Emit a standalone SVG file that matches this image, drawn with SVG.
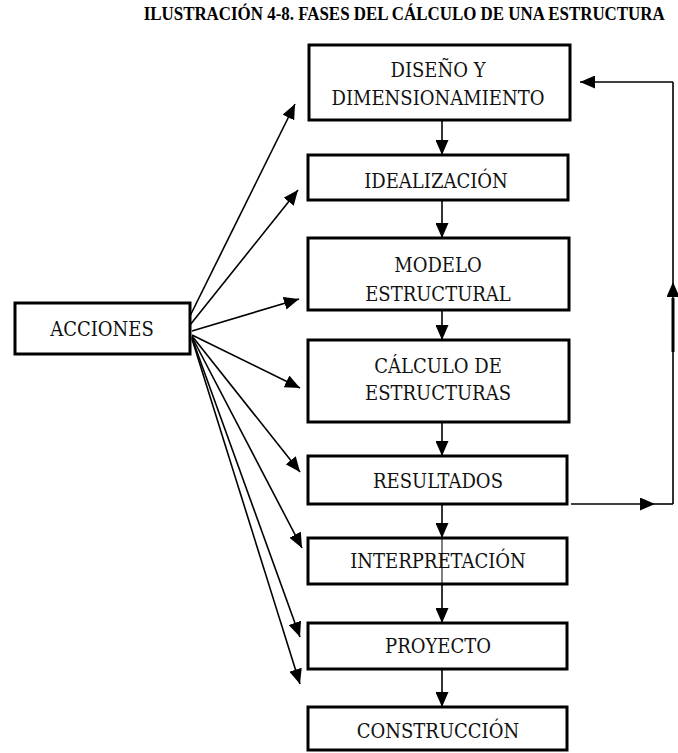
<svg xmlns="http://www.w3.org/2000/svg" width="678" height="753" viewBox="0 0 678 753">
<style>
.box{fill:#fff;stroke:#000;stroke-width:3}
.t{font-family:"DejaVu Serif Condensed","DejaVu Serif","Liberation Serif",serif;font-stretch:condensed;font-size:20px;fill:#111;text-anchor:middle}
.ttl{font-family:"Liberation Serif",serif;font-weight:bold;font-size:18px;fill:#000;text-anchor:middle}
.c{fill:none;stroke:#000;stroke-width:1.6}
</style>
<defs>
<marker id="ah" markerUnits="userSpaceOnUse" markerWidth="16" markerHeight="13" refX="15" refY="6.5" orient="auto">
<path d="M0,0 L15,6.5 L0,13 Z" fill="#000"/>
</marker>
</defs>
<text class="ttl" transform="scale(0.94 1)" x="430" y="20">ILUSTRACIÓN 4-8. FASES DEL CÁLCULO DE UNA ESTRUCTURA</text>
<g id="connectors">
<line class="c" x1="190" y1="316" x2="295" y2="104" marker-end="url(#ah)"/>
<line class="c" x1="190" y1="325" x2="298" y2="190" marker-end="url(#ah)"/>
<line class="c" x1="192" y1="331" x2="299" y2="299" marker-end="url(#ah)"/>
<line class="c" x1="192" y1="335" x2="300" y2="388" marker-end="url(#ah)"/>
<line class="c" x1="192" y1="336" x2="300" y2="472" marker-end="url(#ah)"/>
<line class="c" x1="192" y1="337" x2="302" y2="548" marker-end="url(#ah)"/>
<line class="c" x1="192" y1="338" x2="300" y2="637" marker-end="url(#ah)"/>
<line class="c" x1="192" y1="339" x2="300" y2="684" marker-end="url(#ah)"/>
<line class="c" x1="442" y1="120" x2="442" y2="155" marker-end="url(#ah)"/>
<line class="c" x1="442" y1="200" x2="442" y2="238" marker-end="url(#ah)"/>
<line class="c" x1="442" y1="310" x2="442" y2="340" marker-end="url(#ah)"/>
<line class="c" x1="442" y1="422" x2="442" y2="456" marker-end="url(#ah)"/>
<line class="c" x1="442" y1="504" x2="442" y2="538" marker-end="url(#ah)"/>
<line class="c" x1="442" y1="584" x2="442" y2="623" marker-end="url(#ah)"/>
<line class="c" x1="442" y1="669" x2="442" y2="707" marker-end="url(#ah)"/>
<line class="c" x1="571" y1="504" x2="655" y2="504" marker-end="url(#ah)"/>
<line class="c" x1="655" y1="504" x2="673" y2="504"/>
<line class="c" x1="673" y1="504" x2="673" y2="282" marker-end="url(#ah)"/>
<line class="c" x1="673" y1="282" x2="673" y2="82"/>
<line x1="673" y1="298" x2="673" y2="352" stroke="#000" stroke-width="3"/>
<line class="c" x1="673" y1="82" x2="580" y2="82" marker-end="url(#ah)"/>
</g>
<g id="acciones"><rect class="box" x="15" y="303" width="175" height="51"/><text class="t" x="102" y="336">ACCIONES</text></g>
<g id="diseno"><rect class="box" x="309" y="45" width="261" height="75"/><text class="t" x="438" y="77">DISEÑO Y</text><text class="t" x="438" y="105">DIMENSIONAMIENTO</text></g>
<g id="idealizacion"><rect class="box" x="308" y="155" width="260" height="45"/><text class="t" x="436" y="188">IDEALIZACIÓN</text></g>
<g id="modelo"><rect class="box" x="308" y="238" width="261" height="72"/><text class="t" x="438" y="272">MODELO</text><text class="t" x="438" y="301">ESTRUCTURAL</text></g>
<g id="calculo"><rect class="box" x="308" y="340" width="261" height="82"/><text class="t" x="438" y="373">CÁLCULO DE</text><text class="t" x="438" y="400">ESTRUCTURAS</text></g>
<g id="resultados"><rect class="box" x="308" y="456" width="259" height="48"/><text class="t" x="438" y="488">RESULTADOS</text></g>
<g id="interpretacion"><rect class="box" x="308" y="538" width="259" height="46"/><text class="t" x="438" y="568">INTERPRETACIÓN</text></g>
<line x1="442" y1="538" x2="442" y2="584" stroke="#000" stroke-width="1"/>
<g id="proyecto"><rect class="box" x="308" y="623" width="259" height="46"/><text class="t" x="438" y="653">PROYECTO</text></g>
<g id="construccion"><rect class="box" x="308" y="707" width="259" height="43"/><text class="t" x="438" y="738">CONSTRUCCIÓN</text></g>
</svg>
